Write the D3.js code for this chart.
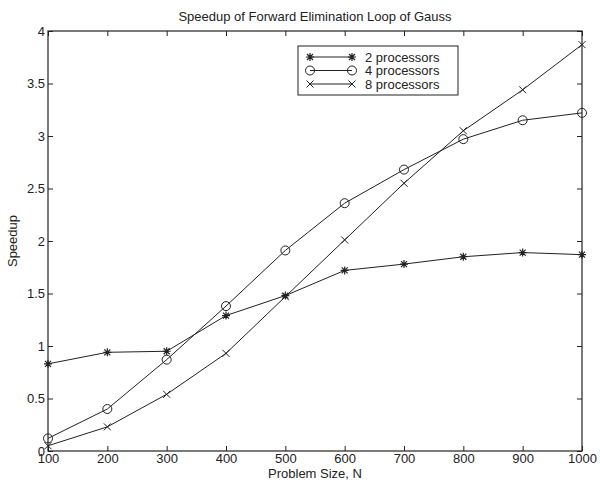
<!DOCTYPE html>
<html>
<head>
<meta charset="utf-8">
<script src="https://cdn.jsdelivr.net/npm/d3@7"></script>
<style>
  body { margin: 0; background: #fff; }
  text { font-family: "Liberation Sans", Arial, sans-serif; fill: #000; }
</style>
</head>
<body>
<script>
// data
var sizes = [100, 200, 300, 400, 500, 600, 700, 800, 900, 1000];
var p2 = [0.83, 0.94, 0.95, 1.29, 1.48, 1.72, 1.78, 1.85, 1.89, 1.87];
var p4 = [0.12, 0.40, 0.87, 1.38, 1.91, 2.36, 2.68, 2.97, 3.15, 3.22];
var p8 = [0.05, 0.23, 0.54, 0.93, 1.47, 2.01, 2.55, 3.05, 3.44, 3.87];
var seriesNames = ['2 processors', '4 processors', '8 processors'];
var seriesMarks = ['star', 'circle', 'cross'];
var yTicks = [0, 0.5, 1, 1.5, 2, 2.5, 3, 3.5, 4];

var W = 600, H = 483;
// plot box (note: "top" is reserved on window, so prefix everything)
var pL = 48, pR = 582, pT = 31, pB = 451;

var svg = d3.select('body').append('svg')
  .attr('width', W).attr('height', H);

var x = d3.scaleLinear().domain([100, 1000]).range([pL, pR]);
var y = d3.scaleLinear().domain([0, 4]).range([pB, pT]);

// axes box
svg.append('rect')
  .attr('x', pL).attr('y', pT)
  .attr('width', pR - pL).attr('height', pB - pT)
  .style('fill', 'none').style('stroke', '#222').style('stroke-width', 1.2);

// matlab style inward ticks, bottom/left with labels, top/right without
var tk = 5;
var xb = svg.append('g').attr('transform', 'translate(0,' + pB + ')')
  .call(d3.axisBottom(x).tickValues(sizes).tickSizeInner(-tk).tickSizeOuter(0).tickPadding(3).tickFormat(d3.format('d')));
var xt = svg.append('g').attr('transform', 'translate(0,' + pT + ')')
  .call(d3.axisTop(x).tickValues(sizes).tickSizeInner(-tk).tickSizeOuter(0).tickFormat(''));
var yl = svg.append('g').attr('transform', 'translate(' + pL + ',0)')
  .call(d3.axisLeft(y).tickValues(yTicks).tickSizeInner(-tk).tickSizeOuter(0).tickPadding(3).tickFormat(d3.format('')));
var yr = svg.append('g').attr('transform', 'translate(' + pR + ',0)')
  .call(d3.axisRight(y).tickValues(yTicks).tickSizeInner(-tk).tickSizeOuter(0).tickFormat(''));

[xb, xt, yl, yr].forEach(function(a) {
  a.select('.domain').remove();
  a.selectAll('line').style('stroke', '#222');
  a.selectAll('text').attr('font-size', 13).style('font-family', '"Liberation Sans", Arial, sans-serif').style('fill', '#222');
});

// titles
svg.append('text').attr('x', (pL + pR) / 2).attr('y', 21)
  .attr('text-anchor', 'middle').attr('font-size', 13).style('fill', '#222')
  .text('Speedup of Forward Elimination Loop of Gauss');
svg.append('text').attr('x', (pL + pR) / 2).attr('y', 478)
  .attr('text-anchor', 'middle').attr('font-size', 13).style('fill', '#222')
  .text('Problem Size, N');
svg.append('text').attr('transform', 'translate(17,' + ((pT + pB) / 2) + ') rotate(-90)')
  .attr('text-anchor', 'middle').attr('font-size', 13).style('fill', '#222')
  .text('Speedup');

// marker drawer
function marker(g, kind, cx, cy) {
  if (kind == 'circle') {
    g.append('circle').attr('cx', cx).attr('cy', cy).attr('r', 4.5)
      .style('fill', 'none').style('stroke', '#222').style('stroke-width', 1);
  } else if (kind == 'cross') {
    var s = 3.5;
    g.append('path').attr('d', 'M' + (cx - s) + ',' + (cy - s) + 'L' + (cx + s) + ',' + (cy + s) +
      'M' + (cx - s) + ',' + (cy + s) + 'L' + (cx + s) + ',' + (cy - s))
      .style('stroke', '#222').style('stroke-width', 1);
  } else {
    var s = 4, d = 3;
    g.append('path').attr('d', 'M' + cx + ',' + (cy - s) + 'L' + cx + ',' + (cy + s) +
      'M' + (cx - d) + ',' + (cy - d) + 'L' + (cx + d) + ',' + (cy + d) +
      'M' + (cx - d) + ',' + (cy + d) + 'L' + (cx + d) + ',' + (cy - d) +
      'M' + (cx - s) + ',' + cy + 'L' + (cx + s) + ',' + cy)
      .style('stroke', '#222').style('stroke-width', 1.2);
  }
}

var line = d3.line().x(function(d) { return x(d[0]); }).y(function(d) { return y(d[1]); });
var g = svg.append('g');
[p2, p4, p8].forEach(function(vals, i) {
  var pts = sizes.map(function(s, j) { return [s, vals[j]]; });
  g.append('path').datum(pts).attr('d', line)
    .style('fill', 'none').style('stroke', '#222').style('stroke-width', 1);
  pts.forEach(function(p) { marker(g, seriesMarks[i], x(p[0]), y(p[1])); });
});

// legend
var lg = svg.append('g').attr('transform', 'translate(298,46)');
lg.append('rect').attr('x', 0).attr('y', 0).attr('width', 160).attr('height', 49)
  .style('fill', '#fff').style('stroke', '#222').style('stroke-width', 1);
seriesNames.forEach(function(n, i) {
  var ly = 11 + i * 13.5;
  lg.append('line').attr('x1', 12).attr('x2', 54).attr('y1', ly).attr('y2', ly)
    .style('stroke', '#222').style('stroke-width', 1);
  marker(lg, seriesMarks[i], 12, ly);
  marker(lg, seriesMarks[i], 54, ly);
  lg.append('text').attr('x', 67).attr('y', ly + 4.5).attr('font-size', 13).style('fill', '#222').text(n);
});
</script>
</body>
</html>
